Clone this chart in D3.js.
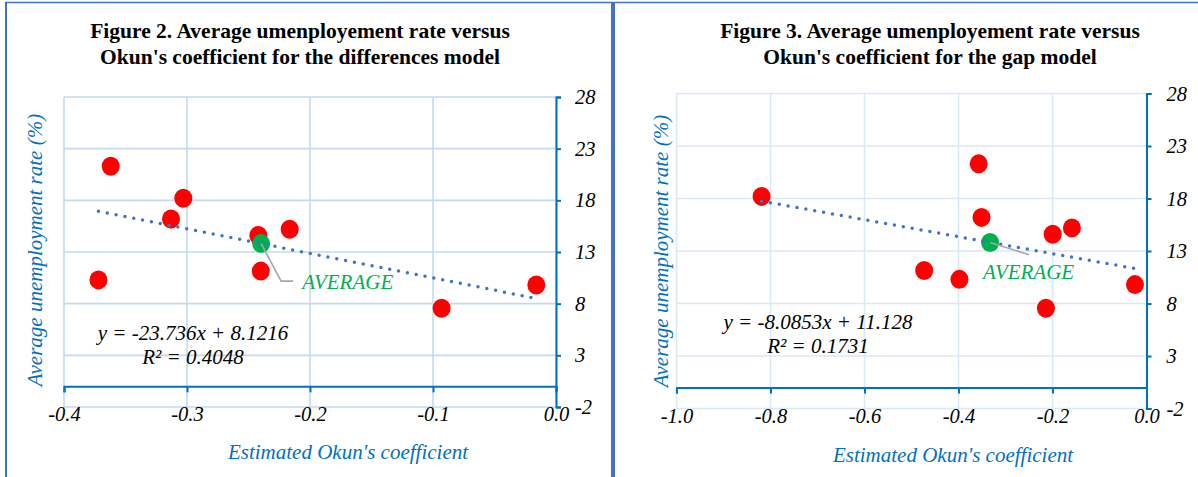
<!DOCTYPE html>
<html><head><meta charset="utf-8">
<script src="https://cdn.jsdelivr.net/npm/d3@7"></script>
<style>
body{margin:0;background:#fff}
svg{display:block}
text{font-family:"Liberation Serif","Times New Roman",serif}
</style>
</head><body>
<svg id="c" width="1198" height="477"></svg>
<script>
// ---------- DATA ----------
const unemployment      = [21.3, 10.3, 18.2, 16.2, 14.6, 15.2, 11.15, 9.8, 7.55];
const okunDifferences   = [-0.362, -0.372, -0.303, -0.313, -0.242, -0.2165, -0.240, -0.016, -0.093];
const okunGap           = [-0.357, -0.398, -0.819, -0.351, -0.1996, -0.1587, -0.473, -0.0245, -0.214];
const trendDifferences  = [-23.736, 8.1216];   // slope, intercept
const trendGap          = [-8.0853, 11.128];
const r2Differences     = 0.4048;
const r2Gap             = 0.1731;
const xTicksDifferences = [-0.4, -0.3, -0.2, -0.1, 0.0];
const xTicksGap         = [-1.0, -0.8, -0.6, -0.4, -0.2, 0.0];
const yTicks            = [-2, 3, 8, 13, 18, 23, 28];
const titleDifferences  = ["Figure 2. Average umenployement rate versus", "Okun's coefficient for the differences model"];
const titleGap          = ["Figure 3. Average umenployement rate versus", "Okun's coefficient for the gap model"];
const xTitle = "Estimated Okun's coefficient";
const yTitle = "Average unemployment rate (%)";
const averageLabel = "AVERAGE";

// ---------- STYLE ----------
const FONT = '"Liberation Serif","Times New Roman",serif';
const BLUE = "#0070C0", FRAME = "#4472C4", RED = "#FF0000", GREEN = "#00B050", TREND = "#4472C4";
const svg = d3.select("#c");

// frame
svg.append("line").attr("x1",5).attr("x2",1198).attr("y1",2.5).attr("y2",2.5).attr("stroke",FRAME).attr("stroke-width",1.5);
svg.append("line").attr("x1",6).attr("x2",6).attr("y1",2).attr("y2",477).attr("stroke",FRAME).attr("stroke-width",2);
svg.append("line").attr("x1",613).attr("x2",613).attr("y1",2).attr("y2",477).attr("stroke",FRAME).attr("stroke-width",4);

function drawPanel(cfg){
  const g = svg.append("g");
  const x = d3.scaleLinear().domain([cfg.xTicks[0], cfg.xTicks[cfg.xTicks.length-1]]).range(cfg.xRange);
  const y = d3.scaleLinear().domain([yTicks[0], yTicks[yTicks.length-1]]).range(cfg.yRange);
  const yMin = yTicks[0], yMax = yTicks[yTicks.length-1];
  const xMin = cfg.xTicks[0], xMax = cfg.xTicks[cfg.xTicks.length-1];

  // title
  g.selectAll(".title").data(cfg.title).join("text")
    .attr("x", cfg.titleX).attr("y", (d,i)=>37.5 + i*26)
    .attr("text-anchor","middle").attr("font-weight","bold").attr("font-size",21.5).attr("fill","#000")
    .style("font-family",FONT).text(d=>d);

  // gridlines
  g.append("g").selectAll("line").data(cfg.xTicks).join("line")
    .attr("x1",d=>x(d)).attr("x2",d=>x(d)).attr("y1",y(yMax)).attr("y2",y(yMin))
    .attr("stroke",cfg.grid).attr("stroke-width",1.6);
  g.append("g").selectAll("line").data(yTicks).join("line")
    .attr("x1",x(xMin)).attr("x2",x(xMax)).attr("y1",d=>y(d)).attr("y2",d=>y(d))
    .attr("stroke",cfg.grid).attr("stroke-width",1.6);

  // x axis (crossing at y = 0)
  const xa = g.append("g").attr("transform",`translate(0,${y(0)})`)
    .call(d3.axisBottom(x).tickValues(cfg.xTicks).tickSize(6).tickFormat(d=>d.toFixed(1)));
  xa.select(".domain").attr("stroke",BLUE).attr("stroke-width",2);
  xa.selectAll(".tick line").attr("stroke",BLUE).attr("stroke-width",2);
  xa.selectAll(".tick text").attr("y", y(yMin)-y(0)+7).attr("dy","0.35em")
    .attr("font-size",20.5).attr("font-style","italic").attr("fill","#000")
    .style("font-family",FONT);

  // right y axis
  const ya = g.append("g").attr("transform",`translate(${x(xMax)},0)`)
    .call(d3.axisRight(y).tickValues(yTicks).tickSize(5).tickFormat(d=>String(d)));
  ya.select(".domain").attr("stroke",BLUE).attr("stroke-width",2);
  ya.selectAll(".tick line").attr("stroke",BLUE).attr("stroke-width",2);
  ya.selectAll(".tick text").attr("x",cfg.yLabelOffset).attr("dy","0.32em").attr("text-anchor","start")
    .attr("font-size",20.5).attr("font-style","italic").attr("fill","#000")
    .style("font-family",FONT);

  // axis titles
  g.append("text").attr("transform",`translate(${cfg.yTitlePos[0]},${cfg.yTitlePos[1]}) rotate(-90)`)
    .attr("text-anchor","middle").attr("dy","0.35em").attr("font-size",21).attr("font-style","italic")
    .attr("fill",BLUE).style("font-family",FONT).text(yTitle);
  g.append("text").attr("x",cfg.xTitlePos[0]).attr("y",cfg.xTitlePos[1])
    .attr("text-anchor","middle").attr("dy","0.35em").attr("font-size",21).attr("font-style","italic")
    .attr("fill",BLUE).style("font-family",FONT).text(xTitle);

  const pts = cfg.okun.map((o,i)=>({x:o, y:unemployment[i]}));
  const avg = {x:d3.mean(cfg.okun), y:d3.mean(unemployment)};

  // points
  g.append("g").selectAll("ellipse").data(pts).join("ellipse")
    .attr("cx",d=>x(d.x)).attr("cy",d=>y(d.y)).attr("rx",9).attr("ry",9.5).attr("fill",RED);
  g.append("ellipse").attr("cx",x(avg.x)).attr("cy",y(avg.y)).attr("rx",9).attr("ry",9.5).attr("fill",GREEN);

  // trendline
  const [slope, intercept] = cfg.trend;
  const ext = d3.extent(cfg.okun);
  const line = d3.line().x(d=>x(d)).y(d=>y(slope*d+intercept));
  g.append("path").attr("d",line(ext)).attr("fill","none").attr("stroke",TREND)
    .attr("stroke-width",3.5).attr("stroke-linecap","round").attr("stroke-dasharray","0 9");

  // average leader + label
  const ax = x(avg.x), ay = y(avg.y);
  g.append("path").attr("d", d3.line()(cfg.leader.map(p=>[ax+p[0], ay+p[1]])))
    .attr("fill","none").attr("stroke","#A6A6A6").attr("stroke-width",1.6);
  g.append("text").attr("x",ax+cfg.labelOff[0]).attr("y",ay+cfg.labelOff[1]).attr("dy","0.35em")
    .attr("font-size",21).attr("font-style","italic").attr("fill",GREEN).style("font-family",FONT).text(averageLabel);

  // equation
  g.append("text").attr("x",cfg.eqPos[0]).attr("y",cfg.eqPos[1]).attr("dy","0.35em")
    .attr("text-anchor","middle").attr("font-size",21).attr("font-style","italic").attr("fill","#000")
    .style("font-family",FONT).text(`y = ${slope}x + ${intercept}`);
  g.append("text").attr("x",cfg.eqPos[0]).attr("y",cfg.eqPos[1]+24).attr("dy","0.35em")
    .attr("text-anchor","middle").attr("font-size",21).attr("font-style","italic").attr("fill","#000")
    .style("font-family",FONT).text(`R² = ${cfg.r2}`);
}

drawPanel({
  title:titleDifferences, titleX:300,
  okun:okunDifferences, trend:trendDifferences, r2:r2Differences,
  xTicks:xTicksDifferences, xRange:[64,556], yRange:[407,97],
  grid:"#C5DAEF", yLabelOffset:19,
  yTitlePos:[34.5,250], xTitlePos:[348,452],
  leader:[[0,0],[20,37.5],[32,37.5]], labelOff:[41,38],
  eqPos:[193,333]
});
drawPanel({
  title:titleGap, titleX:930,
  okun:okunGap, trend:trendGap, r2:r2Gap,
  xTicks:xTicksGap, xRange:[676.5,1146.5], yRange:[408.5,93.5],
  grid:"#DCE8F5", yLabelOffset:20,
  yTitlePos:[661,251], xTitlePos:[953,455],
  leader:[[0,0],[39,12.3]], labelOff:[-7,29],
  eqPos:[818,322]
});
</script>
</body></html>
